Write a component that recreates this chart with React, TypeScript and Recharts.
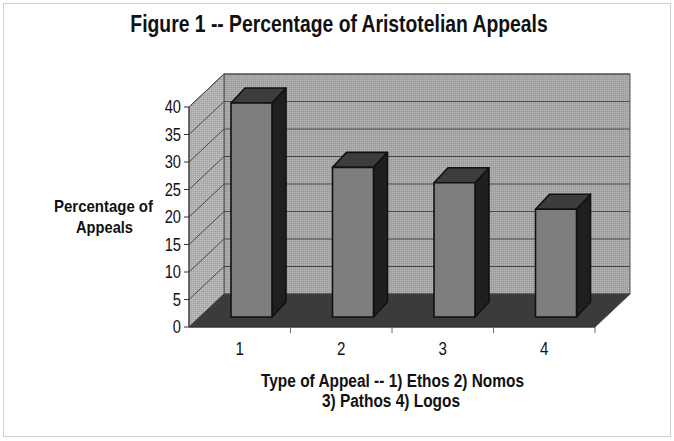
import { BarChart, Bar, XAxis, YAxis, ReferenceArea, ReferenceLine } from 'recharts';

const categories = ['1', '2', '3', '4'];
const percentages = [38.9, 27.2, 24.4, 19.6];
const yTicks = [0, 5, 10, 15, 20, 25, 30, 35, 40];

const data = categories.map((c, i) => ({ type: c, pct: percentages[i] }));

// depth of the 3D box (back wall offset) and of each bar
const DX = 35;
const DY = -33;
const BAR_DX = 12;
const BAR_DY = -10;
const BAR_DEPTH_X = 14;
const BAR_DEPTH_Y = -15;
const HALF_BAND = 406 / 4 / 2;

const font = "'Liberation Sans', Arial, sans-serif";
const NARROW = 0.84;

const Box = (p: any) => {
  const { x, y, width, height } = p;
  const b = y + height;
  return (
    <g>
      <defs>
        <pattern id="dither" width="2" height="2" patternUnits="userSpaceOnUse">
          <rect width="2" height="2" fill="#a6a6a6" />
          <rect width="1" height="1" fill="#b4b4b4" />
          <rect x="1" y="1" width="1" height="1" fill="#9a9a9a" />
        </pattern>
        <pattern id="ditherL" width="2" height="2" patternUnits="userSpaceOnUse">
          <rect width="2" height="2" fill="#b0b0b0" />
          <rect width="1" height="1" fill="#bdbdbd" />
          <rect x="1" y="1" width="1" height="1" fill="#a4a4a4" />
        </pattern>
      </defs>
      <rect x={x + DX} y={y + DY} width={width} height={height} fill="url(#dither)" stroke="#555" strokeWidth={1} />
      <polygon points={`${x},${b} ${x},${y} ${x + DX},${y + DY} ${x + DX},${b + DY}`} fill="url(#ditherL)" stroke="#555" strokeWidth={1} />
      <polygon points={`${x},${b} ${x + width},${b} ${x + width + DX},${b + DY} ${x + DX},${b + DY}`} fill="#3b3b3b" stroke="#444" strokeWidth={1} />
    </g>
  );
};

const GridLine = (p: any) => {
  const { x1, y1, x2 } = p;
  return (
    <g>
      <line x1={x1} y1={y1} x2={x1 + DX} y2={y1 + DY} stroke="#4a4a4a" strokeWidth={1} />
      <line x1={x1 + DX} y1={y1 + DY} x2={x2 + DX} y2={y1 + DY} stroke="#4a4a4a" strokeWidth={1} />
    </g>
  );
};

const Bar3D = (p: any) => {
  const { x, y, width, height } = p;
  const fx = x + BAR_DX;
  const fy = y + BAR_DY;
  const fb = fy + height;
  const r = fx + width;
  return (
    <g stroke="#111" strokeWidth={1.6} strokeLinejoin="round">
      <polygon points={`${r},${fb} ${r},${fy} ${r + BAR_DEPTH_X},${fy + BAR_DEPTH_Y} ${r + BAR_DEPTH_X},${fb + BAR_DEPTH_Y}`} fill="#1f1f1f" />
      <polygon points={`${fx},${fy} ${r},${fy} ${r + BAR_DEPTH_X},${fy + BAR_DEPTH_Y} ${fx + BAR_DEPTH_X},${fy + BAR_DEPTH_Y}`} fill="#3d3d3d" />
      <rect x={fx} y={fy} width={width} height={height} fill="#7e7e7e" />
    </g>
  );
};

const XTick = (p: any) => {
  const { x, y, payload } = p;
  return (
    <g>
      <line x1={x + HALF_BAND} y1={y - 8} x2={x + HALF_BAND} y2={y - 2} stroke="#666" />
      <text transform={`translate(${x},${y + 20}) scale(${NARROW},1)`} textAnchor="middle" fontSize={18} fill="#111" fontFamily={font}>
        {payload.value}
      </text>
    </g>
  );
};

const YTick = (p: any) => {
  const { x, y, payload } = p;
  return (
    <text transform={`translate(${x},${y + 6}) scale(${NARROW},1)`} textAnchor="end" fontSize={17.5} fill="#111" fontFamily={font}>
      {payload.value}
    </text>
  );
};

const XTitle = (p: any) => {
  const { viewBox } = p;
  const cx = viewBox.x + viewBox.width / 2;
  return (
    <g fontSize={17.5} fontWeight="bold" fill="#111" fontFamily={font} style={{ whiteSpace: 'pre' }}>
      <text x={cx - 131} y={viewBox.y + 60} textLength={263} lengthAdjust="spacingAndGlyphs">Type of Appeal -- 1) Ethos  2) Nomos</text>
      <text x={cx - 70} y={viewBox.y + 80} textLength={138} lengthAdjust="spacingAndGlyphs">3) Pathos  4) Logos</text>
    </g>
  );
};

const YTitle = (p: any) => {
  const { viewBox } = p;
  const cx = viewBox.x - 25;
  const mid = viewBox.y + viewBox.height / 2;
  return (
    <g fontSize={17} fontWeight="bold" fill="#111" fontFamily={font}>
      <text x={cx - 50} y={mid - 5} textLength={99} lengthAdjust="spacingAndGlyphs">Percentage of</text>
      <text x={cx - 28} y={mid + 16} textLength={57} lengthAdjust="spacingAndGlyphs">Appeals</text>
    </g>
  );
};

export default function App() {
  return (
    <div style={{ position: 'absolute', left: 0, top: 0, width: 674, height: 441, background: '#fff' }}>
      <div style={{ position: 'absolute', left: 3, top: 3, width: 668, height: 434, border: '1px solid #d0d0d0', boxSizing: 'border-box' }} />
      <div style={{ position: 'absolute', left: 0, top: 11, width: 678, height: 26, lineHeight: '26px', textAlign: 'center', fontFamily: font, fontWeight: 'bold', fontSize: 23, color: '#111', transform: 'scaleX(0.84)' }}>
        Figure 1 -- Percentage of Aristotelian Appeals
      </div>
      <div style={{ position: 'absolute', left: 0, top: 0 }}>
        <BarChart width={674} height={441} data={data} margin={{ top: 107, right: 79, left: 129, bottom: 84 }}>
          <ReferenceArea y1={0} y2={40} shape={Box} ifOverflow="visible" zIndex={-80} />
          {yTicks.slice(1).map((t) => (
            <ReferenceLine key={t} y={t} shape={GridLine} ifOverflow="visible" zIndex={-70} />
          ))}
          <XAxis
            dataKey="type"
            height={30}
            tickSize={6}
            tickMargin={2}
            tickLine={false}
            tick={XTick}
            stroke="#333"
            label={{ content: XTitle }}
          />
          <YAxis
            type="number"
            domain={[0, 40]}
            ticks={yTicks}
            width={60}
            tickSize={5}
            tickMargin={3}
            stroke="#333"
            tick={YTick}
            label={{ content: YTitle }}
          />
          <Bar dataKey="pct" barSize={41} shape={Bar3D} isAnimationActive={false} />
        </BarChart>
      </div>
    </div>
  );
}
